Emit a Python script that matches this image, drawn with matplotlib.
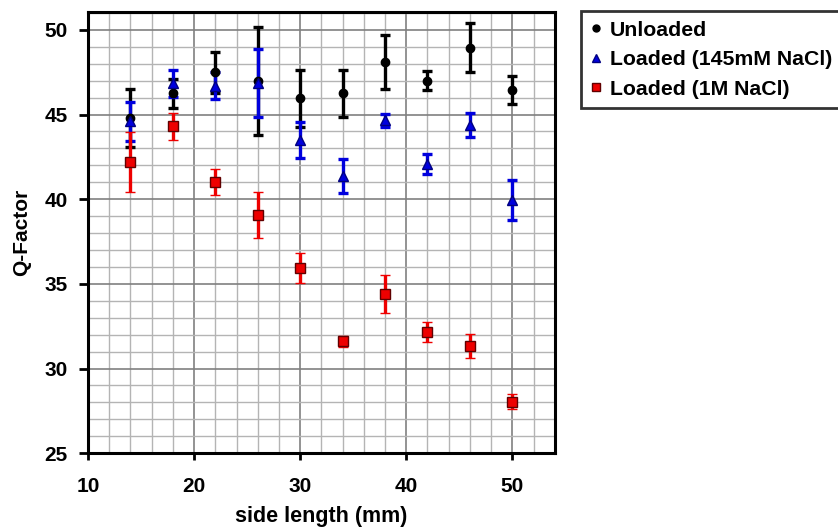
import matplotlib
matplotlib.use('Agg')
import matplotlib.pyplot as plt
from matplotlib.lines import Line2D
from matplotlib.ticker import MultipleLocator

plt.rcParams['font.family'] = ['Liberation Sans', 'DejaVu Sans']
plt.rcParams['font.weight'] = 'bold'

side = [14, 18, 22, 26, 30, 34, 38, 42, 46, 50]

unloaded = [44.8, 46.25, 47.5, 47.0, 45.95, 46.25, 48.1, 47.0, 48.95, 46.45]
unloaded_err = [1.7, 0.85, 1.2, 3.2, 1.7, 1.4, 1.6, 0.55, 1.45, 0.85]

loaded_145 = [44.6, 46.85, 46.7, 46.85, 43.5, 41.35, 44.65, 42.1, 44.4, 39.95]
loaded_145_err = [1.15, 0.8, 0.8, 2.0, 1.05, 1.0, 0.37, 0.6, 0.7, 1.2]

loaded_1m = [42.2, 44.3, 41.0, 39.05, 35.95, 31.6, 34.4, 32.15, 31.35, 28.05]
loaded_1m_err = [1.75, 0.8, 0.77, 1.35, 0.9, 0.35, 1.1, 0.6, 0.7, 0.45]

labels = ['Unloaded', 'Loaded (145mM NaCl)', 'Loaded (1M NaCl)']

fig = plt.figure(figsize=(8.38, 5.27), dpi=100)
ax = fig.add_axes([0.105, 0.14, 0.557, 0.837])

kw = dict(linestyle='none', capsize=3.5, elinewidth=2.4, capthick=2.4, zorder=3)
ax.errorbar(side, unloaded, yerr=unloaded_err, fmt='o', color='black', ecolor='black',
            markersize=6, **kw)
ax.errorbar(side, loaded_145, yerr=loaded_145_err, fmt='^', color='#0000dd', ecolor='#0000dd',
            markersize=7, mec='#000080', **kw)
ax.errorbar(side, loaded_1m, yerr=loaded_1m_err, fmt='s', color='#ee0000', ecolor='#ee0000',
            markersize=7, mec='#600000', mew=1, **kw)

ax.set_xlim(10, 54)
ax.set_ylim(25, 51.05)
ax.xaxis.set_major_locator(MultipleLocator(10))
ax.xaxis.set_minor_locator(MultipleLocator(2))
ax.yaxis.set_major_locator(MultipleLocator(5))
ax.yaxis.set_minor_locator(MultipleLocator(1))
ax.grid(which='major', color='#808080', linewidth=1.2, zorder=0)
ax.grid(which='minor', color='#b4b4b4', linewidth=1.0, zorder=0)
ax.set_axisbelow(True)

for s in ax.spines.values():
    s.set_linewidth(2.2)
ax.tick_params(which='major', direction='out', width=2, labelsize=15)
ax.tick_params(axis='x', which='major', length=5, pad=12)
ax.tick_params(axis='y', which='major', length=6.5, pad=8)
ax.tick_params(which='minor', length=0)

ax.set_xlabel('side length (mm)', fontsize=15.5, fontweight='bold', labelpad=7)
ax.set_ylabel('Q-Factor', fontsize=15, fontweight='bold', labelpad=10)

handles = [
    Line2D([], [], linestyle='none', marker='o', color='black', markersize=5),
    Line2D([], [], linestyle='none', marker='^', color='#0000dd', mec='#000080', markersize=6),
    Line2D([], [], linestyle='none', marker='s', color='#ee0000', mec='#600000', markersize=6),
]
leg = fig.legend(handles, labels, loc='upper left', bbox_to_anchor=(581 / 838, 1 - 11 / 527),
                 fontsize=15.3, frameon=True, fancybox=False, edgecolor='black',
                 handlelength=0.5, handletextpad=0.4, labelspacing=0.5, borderpad=0.45,
                 borderaxespad=0)
leg.get_frame().set_linewidth(2)

fig.savefig('out.png', dpi=100)
